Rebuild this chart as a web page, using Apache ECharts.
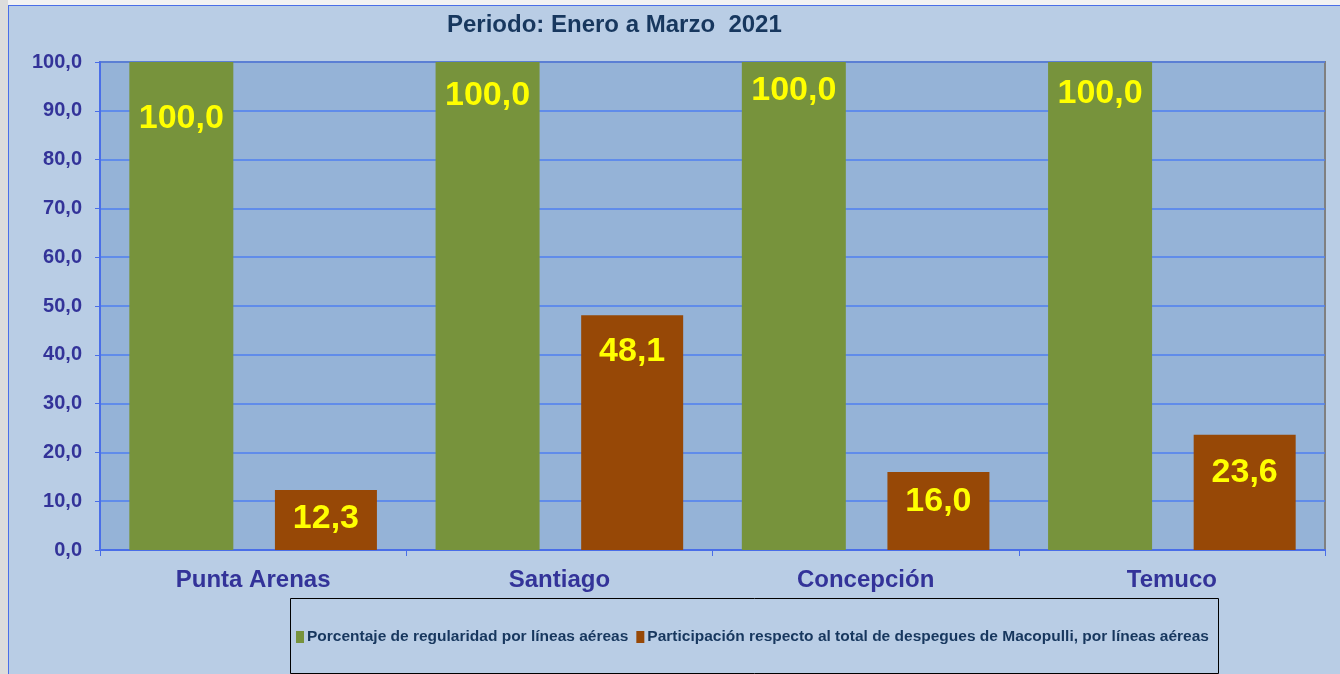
<!DOCTYPE html>
<html>
<head>
<meta charset="utf-8">
<script src="https://cdn.jsdelivr.net/npm/echarts@6/dist/echarts.min.js"></script>
<style>
  html, body { margin: 0; padding: 0; width: 1340px; height: 674px; overflow: hidden; background: #f2f2f2; }
  #strip { position: absolute; left: 0; top: 0; width: 8px; height: 674px; background: #dcdcdc; }
  #frame { position: absolute; left: 8px; top: 5px; width: 1332px; height: 669px; background: #b9cde5;
           border-top: 1px solid #4a6ee8; border-left: 1px solid #4a6ee8; box-sizing: border-box; }
  #chart { position: absolute; left: 0; top: 0; width: 1340px; height: 674px; }
</style>
</head>
<body>
<div id="strip"></div>
<div id="frame"></div>
<div id="chart"></div>
<script>
// ---- data ----
const categories = ['Punta Arenas', 'Santiago', 'Concepción', 'Temuco'];
const seriesNames = [
  'Porcentaje de regularidad por líneas aéreas',
  'Participación respecto al total de despegues de Macopulli, por líneas aéreas'
];
const regularidad = [100.0, 100.0, 100.0, 100.0];
const participacion = [12.3, 48.1, 16.0, 23.6];
const yTicks = [0, 10, 20, 30, 40, 50, 60, 70, 80, 90, 100];
const titleText = 'Periodo: Enero a Marzo  2021';

// ---- layout (label distances from bar top, per bar) ----
const greenLabelDist = [40, 17, 12, 15];
const orangeLabelDist = [12, 19, 13, 21];

const FONT = "'Liberation Sans', Arial, sans-serif";
const fmt = v => Number(v).toFixed(1).replace('.', ',');

function buildData(values, dists) {
  return values.map((v, i) => ({ value: v, label: { distance: dists[i] } }));
}

const chart = echarts.init(document.getElementById('chart'), null, { renderer: 'canvas' });

const labelStyle = {
  show: true,
  position: 'insideTop',
  color: '#ffff00',
  fontSize: 34,
  fontWeight: 'bold',
  fontFamily: FONT,
  formatter: p => fmt(p.value)
};

chart.setOption({
  backgroundColor: 'transparent',
  animation: false,
  title: {
    text: titleText,
    left: 447,
    top: 13,
    padding: 0,
    textStyle: { color: '#17375e', fontSize: 24, fontWeight: 'bold', fontFamily: FONT }
  },
  grid: {
    left: 100, top: 62, right: 15, bottom: 124,
    show: true,
    backgroundColor: '#95b3d7',
    borderColor: '#808080',
    borderWidth: 2
  },
  legend: {
    left: 296,
    top: 629,
    itemWidth: 8,
    itemHeight: 12,
    itemGap: 8,
    padding: 0,
    icon: 'rect',
    textStyle: { color: '#17375e', fontSize: 15.5, fontWeight: 'bold', fontFamily: FONT, padding: [0, 0, 0, -2] },
    data: seriesNames
  },
  graphic: [{
    type: 'rect',
    shape: { x: 290.5, y: 598.5, width: 928, height: 75 },
    style: { fill: 'none', stroke: '#000000', lineWidth: 1 },
    z: 10
  }],
  xAxis: {
    type: 'category',
    data: categories,
    axisLine: { show: true, lineStyle: { color: '#4a6ee8', width: 2 } },
    axisTick: { show: true, length: 6, lineStyle: { color: '#4a6ee8', width: 1 } },
    axisLabel: { color: '#333399', fontSize: 24, fontWeight: 'bold', fontFamily: FONT, margin: 18 },
    splitLine: { show: false }
  },
  yAxis: {
    type: 'value',
    min: yTicks[0],
    max: yTicks[yTicks.length - 1],
    interval: yTicks[1] - yTicks[0],
    axisLine: { show: true, lineStyle: { color: '#4a6ee8', width: 2 } },
    axisTick: { show: true, length: 5, lineStyle: { color: '#4a6ee8', width: 1 } },
    axisLabel: { color: '#333399', fontSize: 20, fontWeight: 'bold', fontFamily: FONT, margin: 18,
                 formatter: v => fmt(v) },
    splitLine: { show: true, lineStyle: { color: '#4f7ff0', width: 1.5 } }
  },
  series: [
    {
      name: seriesNames[0],
      type: 'bar',
      data: buildData(regularidad, greenLabelDist),
      barWidth: 104,
      barGap: '40%',
      itemStyle: { color: '#77933c' },
      label: labelStyle
    },
    {
      name: seriesNames[1],
      type: 'bar',
      data: buildData(participacion, orangeLabelDist),
      barWidth: 102,
      barGap: '40%',
      itemStyle: { color: '#974806' },
      label: labelStyle
    }
  ]
});
</script>
</body>
</html>
